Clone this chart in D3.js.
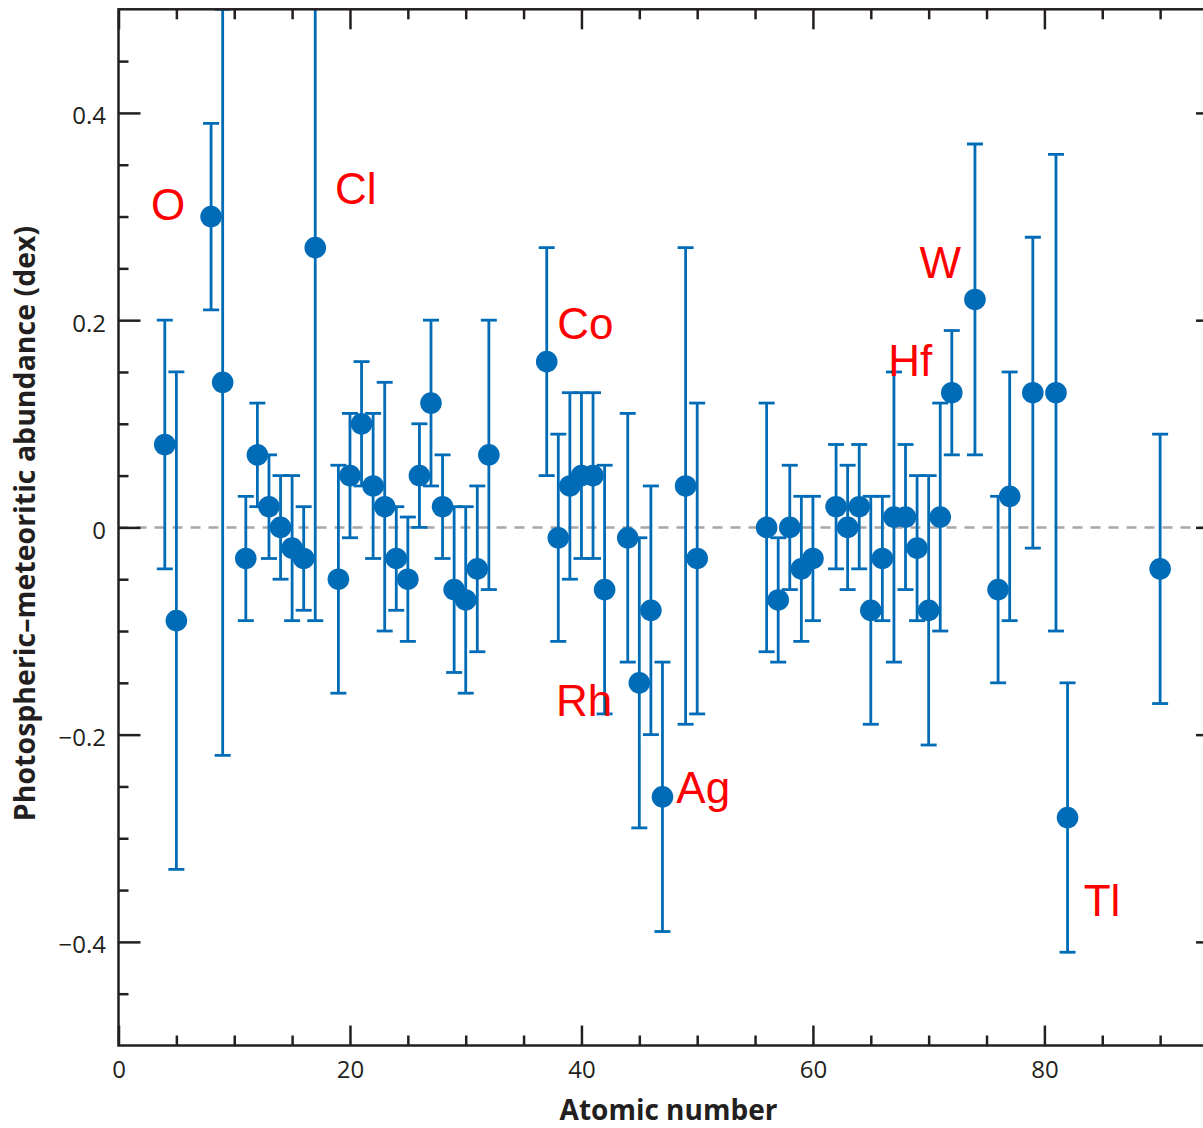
<!DOCTYPE html>
<html>
<head>
<meta charset="utf-8">
<script src="https://cdn.jsdelivr.net/npm/d3@7"></script>
<style>
  html, body { margin: 0; padding: 0; background: #ffffff; }
  svg { display: block; }
</style>
</head>
<body>
<svg id="chart" width="1203" height="1128"></svg>
<script>
// Photospheric minus meteoritic abundance, by atomic number (dex)
const atomicNumbers = [4, 5, 8, 9, 11, 12, 13, 14, 15, 16, 17,
  19, 20, 21, 22, 23, 24, 25, 26, 27, 28, 29, 30, 31, 32,
  37, 38, 39, 40, 41, 42, 44, 45, 46, 47, 49, 50,
  56, 57, 58, 59, 60, 62, 63, 64, 65, 66, 67, 68, 69, 70, 71, 72,
  74, 76, 77, 79, 81, 82, 90];

const abundanceDiff = [0.08, -0.09, 0.30, 0.14, -0.03, 0.07, 0.02, 0.00, -0.02, -0.03, 0.27,
  -0.05, 0.05, 0.10, 0.04, 0.02, -0.03, -0.05, 0.05, 0.12, 0.02, -0.06, -0.07, -0.04, 0.07,
  0.16, -0.01, 0.04, 0.05, 0.05, -0.06, -0.01, -0.15, -0.08, -0.26, 0.04, -0.03,
  0.00, -0.07, 0.00, -0.04, -0.03, 0.02, 0.00, 0.02, -0.08, -0.03, 0.01, 0.01, -0.02, -0.08, 0.01, 0.13,
  0.22, -0.06, 0.03, 0.13, 0.13, -0.28, -0.04];

const uncertainty = [0.12, 0.24, 0.09, 0.36, 0.06, 0.05, 0.05, 0.05, 0.07, 0.05, 0.36,
  0.11, 0.06, 0.06, 0.07, 0.12, 0.05, 0.06, 0.05, 0.08, 0.05, 0.08, 0.09, 0.08, 0.13,
  0.11, 0.10, 0.09, 0.08, 0.08, 0.12, 0.12, 0.14, 0.12, 0.13, 0.23, 0.15,
  0.12, 0.06, 0.06, 0.07, 0.06, 0.06, 0.06, 0.06, 0.11, 0.06, 0.14, 0.07, 0.07, 0.13, 0.11, 0.06,
  0.15, 0.09, 0.12, 0.15, 0.23, 0.13, 0.13];

// Element annotations: text, atomic-number position, dex position (baseline)
const noteText = ["O", "Cl", "Co", "W", "Hf", "Rh", "Ag", "Tl"];
const noteX = [2.8, 18.7, 37.9, 69.2, 66.5, 37.8, 48.2, 83.4];
const noteY = [0.297, 0.312, 0.182, 0.241, 0.146, -0.182, -0.266, -0.375];

// Axis ticks
const xMajorTicks = [0, 20, 40, 60, 80];
const xMinorTicks = [5, 10, 15, 25, 30, 35, 45, 50, 55, 65, 70, 75, 85, 90];
const yMajorTicks = [-0.4, -0.2, 0, 0.2, 0.4];
const yMinorTicks = [-0.45, -0.35, -0.3, -0.25, -0.15, -0.1, -0.05,
  0.05, 0.1, 0.15, 0.25, 0.3, 0.35, 0.45];

const xTitle = "Atomic number";
const yTitle = "Photospheric\u2013meteoritic abundance (dex)";

const points = atomicNumbers.map((z, i) => ({ z, v: abundanceDiff[i], e: uncertainty[i] }));
const notes = noteText.map((t, i) => ({ t, x: noteX[i], y: noteY[i] }));

const AXIS = "#231f20";
const BLUE = "#006cb7";

const svg = d3.select("#chart");
const plotLeft = 118.5, plotRight = 1218, plotTop = 9.3, plotBottom = 1045.5;

const x = d3.scaleLinear().domain([0, 95]).range([plotLeft, plotRight]);
const y = d3.scaleLinear().domain([-0.5, 0.5]).range([plotBottom, plotTop]);

svg.append("defs").append("clipPath").attr("id", "plot-clip")
  .append("rect")
  .attr("x", plotLeft).attr("y", plotTop)
  .attr("width", plotRight - plotLeft).attr("height", plotBottom - plotTop);

// Zero reference line
svg.append("line")
  .attr("x1", x(0)).attr("x2", x(95))
  .attr("y1", y(0)).attr("y2", y(0))
  .attr("stroke", "#a7a7a9")
  .attr("stroke-width", 2.5)
  .attr("stroke-dasharray", "10,8");

// Error bars and markers, one group per element
const plot = svg.append("g").attr("clip-path", "url(#plot-clip)");
const capHalf = 8;
const g = plot.selectAll("g.pt").data(points).join("g").attr("class", "pt");
g.append("line")
  .attr("x1", d => x(d.z)).attr("x2", d => x(d.z))
  .attr("y1", d => y(d.v - d.e)).attr("y2", d => y(d.v + d.e))
  .attr("stroke", BLUE).attr("stroke-width", 2.8);
g.append("line")
  .attr("x1", d => x(d.z) - capHalf).attr("x2", d => x(d.z) + capHalf)
  .attr("y1", d => y(d.v + d.e)).attr("y2", d => y(d.v + d.e))
  .attr("stroke", BLUE).attr("stroke-width", 2.8);
g.append("line")
  .attr("x1", d => x(d.z) - capHalf).attr("x2", d => x(d.z) + capHalf)
  .attr("y1", d => y(d.v - d.e)).attr("y2", d => y(d.v - d.e))
  .attr("stroke", BLUE).attr("stroke-width", 2.8);
g.append("circle")
  .attr("cx", d => x(d.z)).attr("cy", d => y(d.v))
  .attr("r", 10.8)
  .attr("fill", BLUE);

// Red element labels
svg.append("g").selectAll("text").data(notes).join("text")
  .attr("x", d => x(d.x)).attr("y", d => y(d.y))
  .attr("font-family", "'Liberation Sans', Arial, sans-serif")
  .attr("font-size", 44)
  .attr("fill", "#ff0000")
  .text(d => d.t);

// Axes
function styleAxis(sel) {
  sel.select(".domain").remove();
  sel.selectAll(".tick line").attr("stroke", AXIS).attr("stroke-width", 2.5);
  sel.selectAll(".tick text")
    .attr("fill", AXIS)
    .attr("font-family", "'Open Sans', sans-serif")
    .attr("font-size", 24);
}
const yFmt = d => d === 0 ? "0" : d3.format(".1f")(d);

// bottom
svg.append("g").attr("transform", `translate(0,${plotBottom})`)
  .call(d3.axisBottom(x).tickValues(xMajorTicks).tickSizeInner(-20).tickSizeOuter(0).tickPadding(15.5))
  .call(styleAxis);
svg.append("g").attr("transform", `translate(0,${plotBottom})`)
  .call(d3.axisBottom(x).tickValues(xMinorTicks).tickSizeInner(-10).tickSizeOuter(0).tickFormat(""))
  .call(styleAxis);
// top
svg.append("g").attr("transform", `translate(0,${plotTop})`)
  .call(d3.axisTop(x).tickValues(xMajorTicks).tickSizeInner(-20).tickSizeOuter(0).tickFormat(""))
  .call(styleAxis);
svg.append("g").attr("transform", `translate(0,${plotTop})`)
  .call(d3.axisTop(x).tickValues(xMinorTicks).tickSizeInner(-10).tickSizeOuter(0).tickFormat(""))
  .call(styleAxis);
// left
svg.append("g").attr("transform", `translate(${plotLeft},0)`)
  .call(d3.axisLeft(y).tickValues(yMajorTicks).tickSizeInner(-22).tickSizeOuter(0).tickPadding(12.5).tickFormat(yFmt))
  .call(styleAxis)
  .call(s => s.selectAll(".tick text").attr("dy", "0.46em"));
svg.append("g").attr("transform", `translate(${plotLeft},0)`)
  .call(d3.axisLeft(y).tickValues(yMinorTicks).tickSizeInner(-10).tickSizeOuter(0).tickFormat(""))
  .call(styleAxis);
// right
svg.append("g").attr("transform", `translate(${plotRight},0)`)
  .call(d3.axisRight(y).tickValues(yMajorTicks).tickSizeInner(-22).tickSizeOuter(0).tickFormat(""))
  .call(styleAxis);
svg.append("g").attr("transform", `translate(${plotRight},0)`)
  .call(d3.axisRight(y).tickValues(yMinorTicks).tickSizeInner(-10).tickSizeOuter(0).tickFormat(""))
  .call(styleAxis);

// Frame
svg.append("rect")
  .attr("x", plotLeft).attr("y", plotTop)
  .attr("width", plotRight - plotLeft).attr("height", plotBottom - plotTop)
  .attr("fill", "none").attr("stroke", AXIS).attr("stroke-width", 2.5);

// Axis titles
svg.append("text")
  .attr("x", 668.5).attr("y", 1120)
  .attr("text-anchor", "middle")
  .attr("font-family", "'Open Sans', sans-serif")
  .attr("font-weight", 700)
  .attr("font-size", 28)
  .attr("fill", AXIS)
  .text(xTitle);

svg.append("text")
  .attr("transform", "translate(35,523.5) rotate(-90)")
  .attr("text-anchor", "middle")
  .attr("font-family", "'Open Sans', sans-serif")
  .attr("font-weight", 700)
  .attr("font-size", 28.5)
  .attr("fill", AXIS)
  .text(yTitle);
</script>
</body>
</html>
